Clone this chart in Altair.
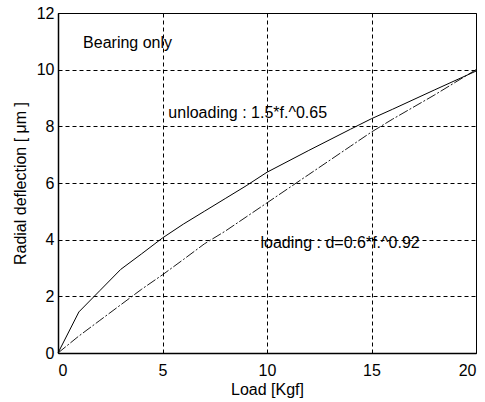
import altair as alt
import pandas as pd

# Unloading curve (upper, solid)
unload_f = [0, 1, 2, 3, 4, 5, 6, 7, 8, 9, 10, 12, 14, 15, 16, 18, 20]
unload_d = [0, 1.45, 2.2, 2.95, 3.5, 4.06, 4.55, 5.0, 5.45, 5.9, 6.38, 7.15, 7.9, 8.27, 8.6, 9.28, 9.95]

# Loading curve (lower, dash-dot)
load_f = [0, 1, 2, 3, 4, 5, 6, 7, 8, 9, 10, 12, 14, 15, 16, 18, 20]
load_d = [0, 0.6, 1.15, 1.7, 2.25, 2.76, 3.3, 3.85, 4.3, 4.8, 5.3, 6.3, 7.3, 7.8, 8.25, 9.1, 10.0]

# Annotations
note_text = ["Bearing only", "unloading : 1.5*f.^0.65", "loading : d=0.6*f.^0.92"]
note_x = [1.2, 5.28, 9.69]
note_y = [10.95, 8.48, 3.89]

x_ticks = [0, 5, 10, 15, 20]
y_ticks = [0, 2, 4, 6, 8, 10, 12]

FONT = "Liberation Sans"

up = pd.DataFrame({"f": unload_f, "d": unload_d})
lo = pd.DataFrame({"f": load_f, "d": load_d})
notes = pd.DataFrame({"t": note_text, "x": note_x, "y": note_y})

xs = alt.Scale(domain=[0, 20], nice=False, zero=False)
ys = alt.Scale(domain=[0, 12], nice=False, zero=False)

xax = alt.Axis(values=x_ticks, title="Load [Kgf]", grid=True, gridColor="black",
               gridDash=[4, 3], gridWidth=1, gridOpacity=1, tickSize=0,
               domainColor="black", domainWidth=1.5, labelColor="black",
               labelFont=FONT, labelFontSize=16, labelPadding=9,
               titleFont=FONT, titleFontSize=16, titleFontWeight="normal",
               titleColor="black", titlePadding=3)
yax = alt.Axis(values=y_ticks, title="Radial deflection [ μm ]", grid=True, gridColor="black",
               gridDash=[4, 3], gridWidth=1, gridOpacity=1, tickSize=0,
               domainColor="black", domainWidth=1.5, labelColor="black",
               labelFont=FONT, labelFontSize=16, labelPadding=4,
               titleFont=FONT, titleFontSize=16, titleFontWeight="normal",
               titleColor="black", titlePadding=8)

upper = alt.Chart(up).mark_line(color="black", strokeWidth=1).encode(
    x=alt.X("f:Q", scale=xs, axis=xax),
    y=alt.Y("d:Q", scale=ys, axis=yax),
)
lower = alt.Chart(lo).mark_line(color="black", strokeWidth=0.9, strokeDash=[10, 2, 2, 2]).encode(
    x=alt.X("f:Q", scale=xs),
    y=alt.Y("d:Q", scale=ys),
)
text = alt.Chart(notes).mark_text(align="left", baseline="middle", font=FONT,
                                  fontSize=16, color="black").encode(
    x=alt.X("x:Q", scale=xs),
    y=alt.Y("y:Q", scale=ys),
    text="t:N",
)

chart = (upper + lower + text).properties(
    width=418, height=340,
    autosize=alt.AutoSizeParams(type="none"),
    padding={"left": 58, "top": 13, "right": 9, "bottom": 49},
    background="white",
).configure_view(stroke="black", strokeWidth=1)

chart.save("out.html", embed_options={"renderer": "svg", "actions": False})
